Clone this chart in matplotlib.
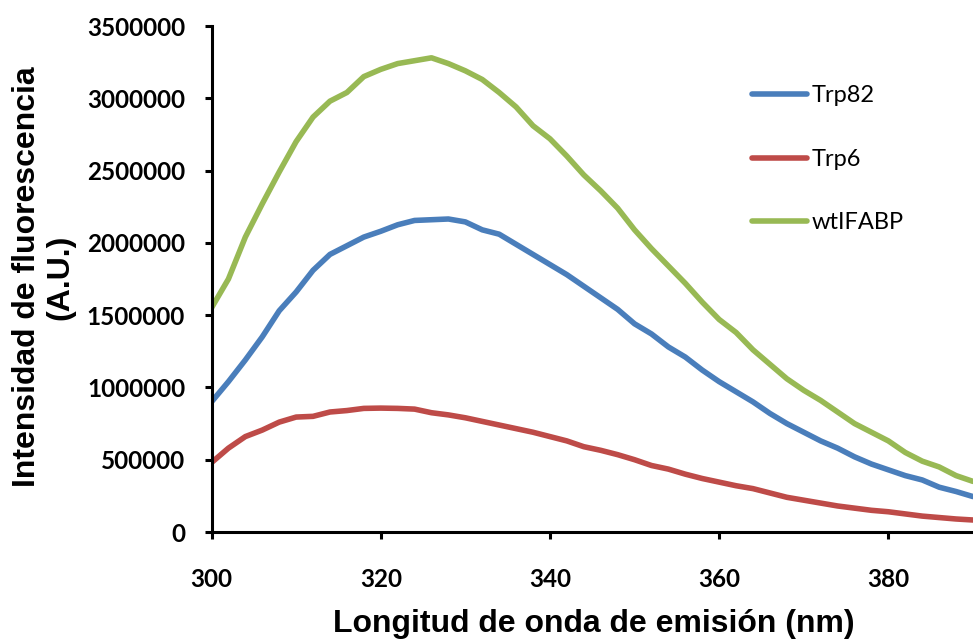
import numpy as np
import matplotlib
matplotlib.use("Agg")
import matplotlib.pyplot as plt

# emission wavelength (nm), every 2 nm
wavelength = list(range(300, 391, 2))

# intensities, in millions
trp82 = [0.90, 1.04, 1.19, 1.35, 1.53, 1.66, 1.81, 1.92, 1.98, 2.04,
         2.08, 2.125, 2.155, 2.16, 2.165, 2.145, 2.09, 2.06, 1.99, 1.92,
         1.85, 1.78, 1.70, 1.62, 1.54, 1.44, 1.37, 1.28, 1.21, 1.12,
         1.04, 0.97, 0.90, 0.82, 0.75, 0.69, 0.63, 0.58, 0.52, 0.47,
         0.43, 0.39, 0.36, 0.31, 0.28, 0.245]
trp6 = [0.48, 0.58, 0.66, 0.705, 0.76, 0.795, 0.80, 0.83, 0.84, 0.855,
        0.857, 0.855, 0.85, 0.825, 0.81, 0.79, 0.765, 0.74, 0.715, 0.69,
        0.66, 0.63, 0.59, 0.565, 0.535, 0.50, 0.46, 0.435, 0.40, 0.37,
        0.345, 0.32, 0.30, 0.27, 0.24, 0.22, 0.20, 0.18, 0.165, 0.15,
        0.14, 0.125, 0.11, 0.10, 0.09, 0.083]
wtifabp = [1.55, 1.75, 2.04, 2.27, 2.49, 2.70, 2.87, 2.98, 3.04, 3.15,
           3.20, 3.24, 3.26, 3.28, 3.24, 3.19, 3.13, 3.04, 2.94, 2.81,
           2.72, 2.60, 2.47, 2.36, 2.24, 2.09, 1.96, 1.84, 1.72, 1.59,
           1.47, 1.38, 1.26, 1.16, 1.06, 0.98, 0.91, 0.83, 0.75, 0.69,
           0.63, 0.55, 0.49, 0.45, 0.39, 0.35]

series_names = ["Trp82", "Trp6", "wtIFABP"]
series_colors = ["#4A7EBB", "#BE4B48", "#98B954"]

y_ticks = [0, 500000, 1000000, 1500000, 2000000, 2500000, 3000000, 3500000]
x_ticks = [300, 320, 340, 360, 380]

W, H = 973, 642
fig = plt.figure(figsize=(W / 100, H / 100), dpi=100)
ax = fig.add_axes([211.5 / W, (H - 532) / H, (W - 211.5) / W, (532 - 26) / H])

for vals, name, col in zip([trp82, trp6, wtifabp], series_names, series_colors):
    ax.plot(wavelength, np.array(vals) * 1e6, color=col, lw=4.0,
            solid_capstyle="round", solid_joinstyle="round", label=name)

ax.set_xlim(300, 390)
ax.set_ylim(0, 3500000)
ax.set_xticks(x_ticks)
ax.set_yticks(y_ticks)
ax.set_xticklabels([str(v) for v in x_ticks])
ax.set_yticklabels([str(v) for v in y_ticks])

for s in ["top", "right"]:
    ax.spines[s].set_visible(False)
for s in ["left", "bottom"]:
    ax.spines[s].set_linewidth(2.2)

ax.tick_params(axis="both", direction="out", length=5, width=2.2)
ax.tick_params(axis="x", pad=21)
ax.tick_params(axis="y", pad=14)
for lbl in ax.get_xticklabels() + ax.get_yticklabels():
    lbl.set_fontfamily("Lato")
    lbl.set_fontweight("bold")
    lbl.set_fontsize(17.5)

leg = ax.legend(loc="upper left", bbox_to_anchor=((743 - 211.5) / (W - 211.5), (532 - 76) / (532 - 26)),
                frameon=False, handlelength=2.3, handletextpad=0.2, labelspacing=1.8,
                prop={"family": "Lato", "size": 17}, borderaxespad=0)

fig.text(594 / W, 1 - 624 / H, "Longitud de onda de emisión (nm)",
         ha="center", va="center", fontsize=23, fontweight="bold", family="Liberation Sans")
fig.text(44 / W, 1 - 277 / H, "Intensidad de fluorescencia\n(A.U.)",
         ha="center", va="center", rotation=90, multialignment="center",
         fontsize=23, fontweight="bold", family="Liberation Sans", linespacing=1.15)

fig.savefig("out.png", dpi=100)
